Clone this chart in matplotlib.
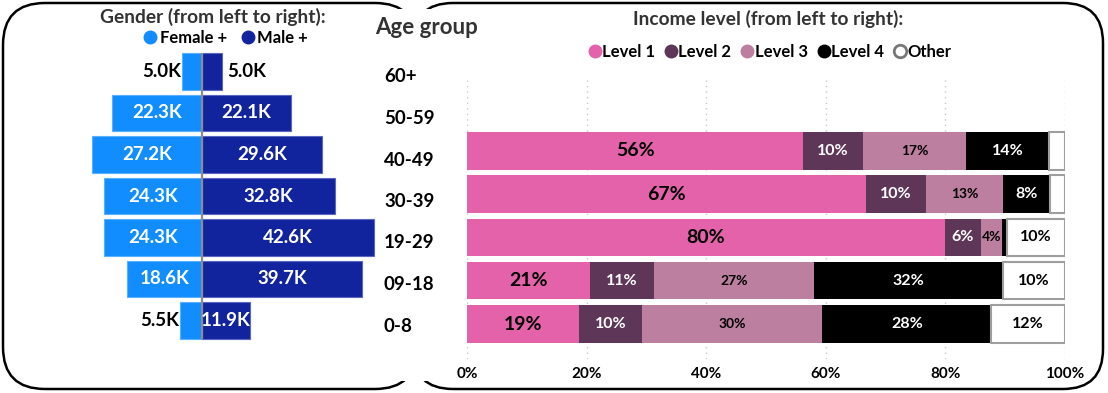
import matplotlib.pyplot as plt
from matplotlib.patches import FancyBboxPatch, Rectangle
from matplotlib.lines import Line2D
from matplotlib.transforms import Affine2D, ScaledTranslation

plt.rcParams["font.family"] = ["Lato", "DejaVu Sans"]

# ---------------------------------------------------------------------------
# Data
# ---------------------------------------------------------------------------
AGE_GROUPS = ["0-8", "09-18", "19-29", "30-39", "40-49", "50-59", "60+"]
FEMALE_K = [5.5, 18.6, 24.3, 24.3, 27.2, 22.3, 5.0]
MALE_K = [11.9, 39.7, 42.6, 32.8, 29.6, 22.1, 5.0]

INCOME_AGES = ["0-8", "09-18", "19-29", "30-39", "40-49"]
INCOME_LEVELS = ["Level 1", "Level 2", "Level 3", "Level 4", "Other"]
LEVEL_1 = [18.8, 20.6, 79.9, 66.8, 56.2]
LEVEL_2 = [10.4, 10.6, 6.1, 9.9, 10.0]
LEVEL_3 = [30.2, 26.9, 3.5, 13.0, 17.3]
LEVEL_4 = [28.3, 31.5, 0.8, 7.8, 13.8]
OTHER = [12.3, 10.4, 9.7, 2.5, 2.7]
PCT_TICKS = [0, 20, 40, 60, 80, 100]

# ---------------------------------------------------------------------------
# Style
# ---------------------------------------------------------------------------
FEMALE_C, MALE_C = "#118DFF", "#12239E"
LEVEL_COLORS = ["#E462AA", "#5E3657", "#BC7F9F", "#000000", "#FFFFFF"]
LABEL_COLORS = ["black", "white", "black", "white", "black"]
LABEL_SIZES = [14, 11.5, 10, 11.5, 11.5]
TITLE_C = "#333333"

W, H = 1108, 393
fig = plt.figure(figsize=(W / 100, H / 100), dpi=100)
px = Affine2D().scale(1 / W, 1 / H) + fig.transFigure


def rect(x0, y0, x1, y1):
    # pixel box (top-left origin) -> figure fraction
    return [x0 / W, 1 - y1 / H, (x1 - x0) / W, (y1 - y0) / H]


# --- panel frames + white strip covering the inner edges ---
fig.add_artist(FancyBboxPatch((3, 393 - 389), 414, 386,
                              boxstyle="round,pad=0,rounding_size=42",
                              fill=False, ec="black", lw=1.8, transform=px, zorder=0.5))
fig.add_artist(FancyBboxPatch((413, 393 - 389), 690, 386,
                              boxstyle="round,pad=0,rounding_size=40",
                              fill=False, ec="black", lw=1.8, transform=px, zorder=0.5))
fig.add_artist(Rectangle((368, 393 - 381), 95, 372, fc="white", ec="none",
                         transform=px, zorder=1))

# ---------------------------------------------------------------------------
# Population pyramid
# ---------------------------------------------------------------------------
ax1 = fig.add_axes(rect(30, 50, 378, 345), zorder=2)
ax1.set_facecolor("none")
y = range(len(AGE_GROUPS))
ax1.barh(y, [-v for v in FEMALE_K], height=0.89, color=FEMALE_C,
         edgecolor="#5AAFFF", lw=0.8)
ax1.barh(y, MALE_K, height=0.89, color=MALE_C, edgecolor="#5A66C0", lw=0.8)
ax1.vlines(0, -0.445, len(AGE_GROUPS) - 0.555, color="#8C8C8C", lw=1.6, zorder=3)

for i, (f, m) in enumerate(zip(FEMALE_K, MALE_K)):
    if f >= 8:
        ax1.text(-f / 2, i, f"{f:.1f}K", ha="center", va="center",
                 color="white", weight="bold", size=13.5)
    else:
        ax1.text(-f - 0.1, i, f"{f:.1f}K", ha="right", va="center",
                 color="black", weight="bold", size=13.5)
    if m >= 8:
        ax1.text(m / 2, i, f"{m:.1f}K", ha="center", va="center",
                 color="white", weight="bold", size=13.5)
    else:
        ax1.text(m + 1.2, i, f"{m:.1f}K", ha="left", va="center",
                 color="black", weight="bold", size=13.5)

ax1.set_xlim(-(202 - 30) / 4.04, (378 - 202) / 4.04)
ax1.set_ylim(-(345 - 320.5) / 41.5, (320.5 - 50) / 41.5)
ax1.yaxis.tick_right()
ax1.set_yticks(list(y), AGE_GROUPS)
ax1.tick_params(axis="y", length=0, pad=4.3, labelsize=13.5)
for lbl in ax1.get_yticklabels():
    lbl.set_fontweight("bold")
    lbl.set_transform(lbl.get_transform() + ScaledTranslation(0, -0.04, fig.dpi_scale_trans))
ax1.set_xticks([])
for s in ax1.spines.values():
    s.set_visible(False)

fig.text(213 / W, 1 - 17 / H, "Gender (from left to right):", ha="center", va="center",
         weight="bold", size=13.8, color=TITLE_C)
fig.text(375 / W, 1 - 28 / H, "Age group", ha="left", va="center",
         weight="bold", size=16, color=TITLE_C, zorder=3)
g_handles = [Line2D([], [], ls="", marker="o", ms=9, mfc=c, mec=c)
             for c in (FEMALE_C, MALE_C)]
fig.legend(g_handles, ["Female +", "Male +"], loc="center",
           bbox_to_anchor=(226 / W, 1 - 38 / H), ncol=2, frameon=False,
           handlelength=0.7, handletextpad=0.2, columnspacing=0.9,
           borderpad=0, prop={"weight": "bold", "size": 12})

# ---------------------------------------------------------------------------
# Income level 100% stacked bars
# ---------------------------------------------------------------------------
ax2 = fig.add_axes(rect(467, 80, 1065, 359), zorder=2)
ax2.set_facecolor("none")
levels = [LEVEL_1, LEVEL_2, LEVEL_3, LEVEL_4, OTHER]
yi = range(len(INCOME_AGES))
left = [0.0] * len(INCOME_AGES)
for k, vals in enumerate(levels):
    is_other = k == len(levels) - 1
    ax2.barh(yi, vals, left=left, height=0.868, color=LEVEL_COLORS[k],
             edgecolor="#9E9E9E" if is_other else "none", lw=1.5 if is_other else 0)
    for i, v in enumerate(vals):
        if v >= 3:
            ax2.text(left[i] + v / 2, i, f"{round(v)}%", ha="center", va="center",
                     color=LABEL_COLORS[k], weight="bold", size=LABEL_SIZES[k])
    left = [a + b for a, b in zip(left, vals)]

ax2.set_xlim(0, 100)
ax2.set_ylim(-(359 - 324) / 43.3, (324 - 80) / 43.3)
ax2.set_xticks(PCT_TICKS, [f"{t}%" for t in PCT_TICKS])
ax2.set_yticks([])
ax2.tick_params(axis="x", length=0, pad=6, labelsize=11)
for lbl in ax2.get_xticklabels():
    lbl.set_fontweight("bold")
ax2.grid(axis="x", linestyle=(0, (1, 3)), color="#C8C8C8", lw=1)
ax2.set_axisbelow(True)
for s in ax2.spines.values():
    s.set_visible(False)

fig.text(768 / W, 1 - 19 / H, "Income level (from left to right):", ha="center",
         va="center", weight="bold", size=13.8, color=TITLE_C)
i_handles = [Line2D([], [], ls="", marker="o", ms=9, mfc=c,
                    mec="#777777" if c == "#FFFFFF" else c, mew=2 if c == "#FFFFFF" else 1)
             for c in LEVEL_COLORS]
fig.legend(i_handles, INCOME_LEVELS, loc="center",
           bbox_to_anchor=(770 / W, 1 - 52 / H), ncol=5, frameon=False,
           handlelength=0.7, handletextpad=0.1, columnspacing=0.6,
           borderpad=0, prop={"weight": "bold", "size": 12})

fig.savefig("out.png", dpi=100)
